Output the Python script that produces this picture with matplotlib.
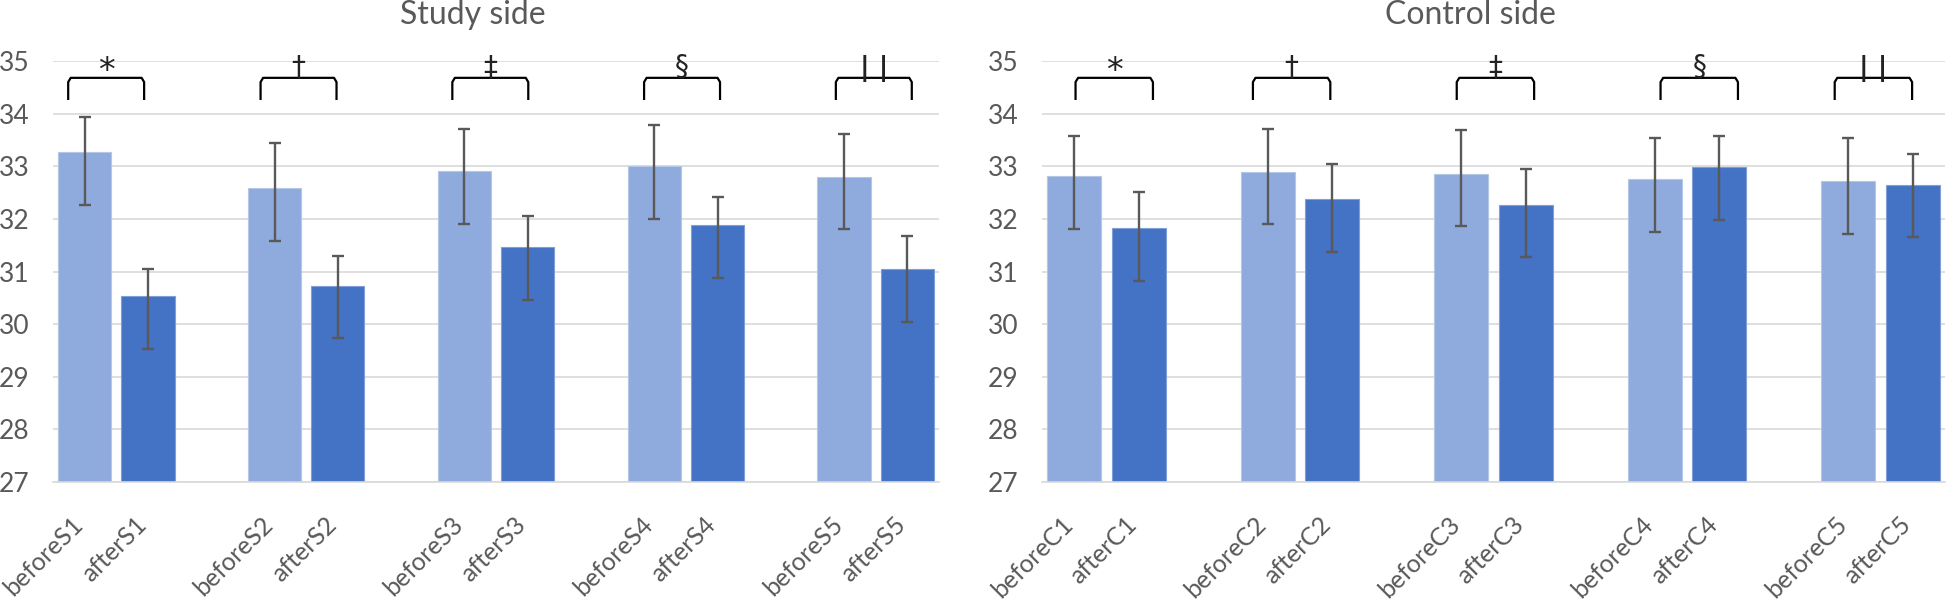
import matplotlib
matplotlib.use("Agg")
import matplotlib.pyplot as plt
import matplotlib.transforms as mtransforms

plt.rcParams['font.family'] = ['Lato', 'DejaVu Sans']

# DATA
study_labels = ["S1", "S2", "S3", "S4", "S5"]
study_before = [33.27, 32.58, 32.91, 33.00, 32.80]
study_after = [30.53, 30.73, 31.46, 31.88, 31.04]
study_before_up = [0.67, 0.86, 0.79, 0.79, 0.82]
study_after_up = [0.52, 0.57, 0.60, 0.54, 0.63]

control_labels = ["C1", "C2", "C3", "C4", "C5"]
control_before = [32.81, 32.90, 32.86, 32.76, 32.72]
control_after = [31.82, 32.38, 32.27, 32.98, 32.65]
control_before_up = [0.76, 0.80, 0.82, 0.78, 0.81]
control_after_up = [0.69, 0.66, 0.68, 0.59, 0.58]

err_down = [1.0, 1.0, 1.0, 1.0, 1.0]
symbols = ["*", "\u2020", "\u2021", "\u00a7", "| |"]
study_bracket_shift = [-0.16, -0.12, -0.09, -0.06, -0.03]
control_bracket_shift = [0.12, -0.13, 0.03, 0.19, -0.11]

BEFORE = "#8FAADC"
AFTER = "#4472C4"
GREY = "#595959"

fig = plt.figure(figsize=(19.46, 6), dpi=100)
ax1 = fig.add_axes([53/1946, 1-482/600, 886/1946, 421/600])
ax2 = fig.add_axes([1042/1946, 1-482/600, 903/1946, 421/600])


def draw(ax, labels, before, after, before_up, after_up, shifts):
    xb = [3*i for i in range(len(labels))]
    xa = [3*i + 1 for i in range(len(labels))]
    w = 0.84
    ax.bar(xb, [v - 27 for v in before], bottom=27, width=w, color=BEFORE,
           edgecolor="#b4c7e7", linewidth=0.8, zorder=2)
    ax.bar(xa, [v - 27 for v in after], bottom=27, width=w, color=AFTER,
           edgecolor="#7f9fd6", linewidth=0.8, zorder=2)
    ax.errorbar(xb, before, yerr=[err_down, before_up], fmt="none", ecolor=GREY,
                elinewidth=1.7, capsize=4.5, capthick=1.7, zorder=3)
    ax.errorbar(xa, after, yerr=[err_down, after_up], fmt="none", ecolor=GREY,
                elinewidth=1.7, capsize=4.5, capthick=1.7, zorder=3)

    # brackets + significance marks
    for i in range(len(labels)):
        c = 3*i + 0.5 + shifts[i]
        x0, x1 = c - 0.6, c + 0.6
        ax.plot([x0, x0, x0 + 0.04, x1 - 0.04, x1, x1],
                [34.28, 34.6, 34.68, 34.68, 34.6, 34.28],
                color="black", lw=1.6, zorder=4, solid_joinstyle="round")
        if symbols[i] == "*":
            ax.text(c, 34.8, symbols[i], ha="center", va="center", fontsize=24,
                    color="#222222", zorder=5, family="DejaVu Sans")
        elif symbols[i] == "| |":
            ax.text(c, 34.86, symbols[i], ha="center", va="center", fontsize=19,
                    color="#222222", zorder=5, family="DejaVu Sans",
                    fontweight="bold")
        else:
            ax.text(c, 34.88, symbols[i], ha="center", va="center", fontsize=20,
                    color="#222222", zorder=5, family="DejaVu Sans")

    ax.set_xlim(-0.5, 13.5)
    ax.set_ylim(27, 35)
    ax.set_yticks(range(27, 36))
    ticks = []
    names = []
    for i, lab in enumerate(labels):
        ticks += [xb[i], xa[i]]
        names += ["before" + lab, "after" + lab]
    ax.set_xticks(ticks)
    ax.set_xticklabels(names, rotation=45, ha="right", va="baseline",
                       rotation_mode="anchor", fontsize=18, color=GREY)
    offset = mtransforms.ScaledTranslation(6/100, 0, fig.dpi_scale_trans)
    for t in ax.get_xticklabels():
        t.set_transform(t.get_transform() + offset)
    ax.tick_params(axis="x", length=0, pad=31.5)
    ax.tick_params(axis="y", length=0, pad=17, labelsize=19, labelcolor=GREY)
    ax.grid(axis="y", color="#d9d9d9", lw=1.2, zorder=0)
    ax.set_axisbelow(True)
    for s in ["top", "right", "left"]:
        ax.spines[s].set_visible(False)
    ax.spines["bottom"].set_color("#d9d9d9")
    ax.spines["bottom"].set_linewidth(1.2)


draw(ax1, study_labels, study_before, study_after, study_before_up, study_after_up,
     study_bracket_shift)
draw(ax2, control_labels, control_before, control_after, control_before_up,
     control_after_up, control_bracket_shift)

fig.text(473/1946, 1-15/600, "Study side", ha="center", va="center",
         fontsize=23, color=GREY)
fig.text(1470/1946, 1-15/600, "Control side", ha="center", va="center",
         fontsize=23, color=GREY)

fig.savefig("out.png", dpi=100)
